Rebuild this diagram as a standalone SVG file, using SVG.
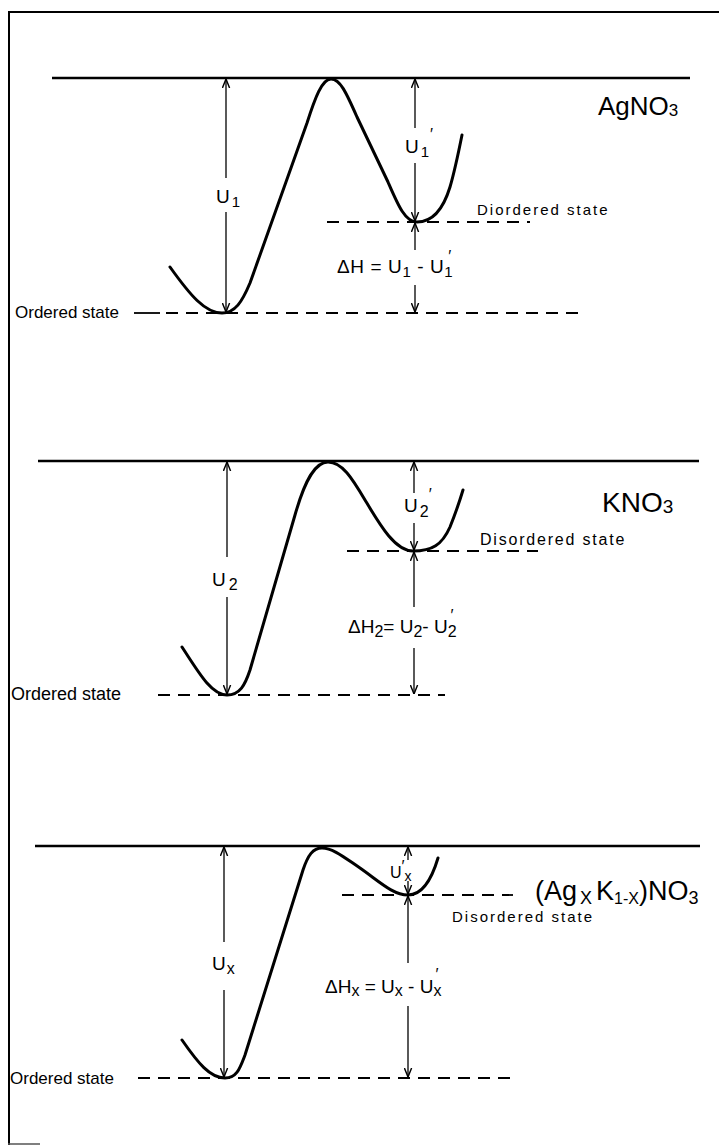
<svg xmlns="http://www.w3.org/2000/svg" width="719" height="1146" viewBox="0 0 719 1146">
<defs>
<style>
.lvl{stroke:#000;stroke-width:2.6;fill:none}
.curve{stroke:#000;stroke-width:3;fill:none;stroke-linecap:round;stroke-linejoin:round}
.dash{stroke:#000;stroke-width:1.8;fill:none;stroke-dasharray:12 8}
.arr{stroke:#000;stroke-width:1.3;fill:none}
.up{marker-start:url(#ah)}
.dn{marker-end:url(#ah)}
text{font-family:"Liberation Sans",Arial,sans-serif;fill:#000}
.lab{font-size:19px}
.st{font-size:15px;letter-spacing:2px}
.ord{font-size:17px}
.big{font-size:26px}
</style>
<marker id="ah" viewBox="0 0 10 10" refX="10" refY="5" markerWidth="9" markerHeight="9" markerUnits="userSpaceOnUse" orient="auto-start-reverse">
<path d="M0,1 L10,5 L0,9" fill="none" stroke="#000" stroke-width="1.6"/>
</marker>
</defs>
<rect width="719" height="1146" fill="#fff"/>
<g id="frame">
<line x1="8" y1="12" x2="719" y2="12" stroke="#000" stroke-width="2.2"/>
<line x1="9" y1="12" x2="9" y2="1145" stroke="#000" stroke-width="2"/>
<line x1="8" y1="1144" x2="40" y2="1144" stroke="#555" stroke-width="1.5"/>
</g>

<g id="panel-agno3">
<line class="lvl" x1="52" y1="78" x2="690" y2="78"/>
<path class="curve" d="M170,267 C190,295 205,313 222,313 C235,313 242,302 250,283 L307,123 C315,98 322,79 331,79 C340,79 346,92 357,117 L388,182 C398,205 405,222 417,222 C432,222 443,210 450,187 C455,170 459,150 462,135"/>
<text class="big" x="598" y="115">AgNO<tspan font-size="17" dy="1">3</tspan></text>
<text class="st" x="477" y="215">Diordered state</text>
<text class="lab" x="216" y="203">U<tspan font-size="15" dx="2" dy="4">1</tspan></text>
<text class="lab" x="405" y="153">U<tspan font-size="15" dx="2" dy="4">1</tspan><tspan font-size="16" dx="1" dy="-17">′</tspan></text>
<text class="lab" x="337" y="273" letter-spacing="0.6">ΔH = U<tspan font-size="15" dy="4">1</tspan><tspan dy="-4"> - U</tspan><tspan font-size="15" dy="4">1</tspan><tspan font-size="16" dx="-5" dy="-15">′</tspan></text>
<text class="ord" x="15" y="318">Ordered state</text>
<line x1="134" y1="313" x2="160" y2="313" stroke="#000" stroke-width="1.8"/>
<line class="dash" x1="166" y1="313" x2="578" y2="313"/>
<line class="dash" x1="327" y1="222" x2="530" y2="222"/>
</g>

<g id="panel-kno3">
<line class="lvl" x1="38" y1="461" x2="699" y2="461"/>
<path class="curve" d="M182,647 C200,675 212,695 227,695 C240,695 245,685 250,670 L295,515 C305,480 315,462 328,462 C342,462 352,478 365,500 C380,525 395,551 413,551 C432,551 442,545 450,527 C456,512 460,500 463,490"/>
<text x="602" y="512" font-size="28">KNO<tspan font-size="19" dy="1">3</tspan></text>
<text x="480" y="545" style="font-size:16px;letter-spacing:1.8px">Disordered state</text>
<text class="lab" x="212" y="586">U<tspan font-size="16" dx="3" dy="4">2</tspan></text>
<text class="lab" x="404" y="512">U<tspan font-size="16" dx="2" dy="5">2</tspan><tspan font-size="16" dx="0" dy="-17">′</tspan></text>
<text class="lab" x="348" y="633">ΔH<tspan font-size="16" dy="4">2</tspan><tspan dy="-4">= U</tspan><tspan font-size="16" dy="4">2</tspan><tspan dy="-4">- U</tspan><tspan font-size="16" dy="4">2</tspan><tspan font-size="16" dx="-6" dy="-16">′</tspan></text>
<text x="11" y="700" style="font-size:18px">Ordered state</text>
<line class="dash" x1="158" y1="695" x2="445" y2="695"/>
<line class="dash" x1="347" y1="551" x2="538" y2="551"/>
</g>

<g id="panel-agkno3">
<line class="lvl" x1="35" y1="846" x2="700" y2="846"/>
<path class="curve" d="M182,1040 C198,1063 210,1078 225,1078 C237,1078 240,1068 245,1055 L303,870 C308,855 313,848 322,848 C333,848 345,858 360,868 C380,882 393,895 408,895 C420,895 430,885 438,858"/>
<text x="535" y="900" font-size="27">(Ag<tspan font-size="18" dx="3" dy="4">X</tspan><tspan dx="4" dy="-4">K</tspan><tspan font-size="16" dy="4">1-X</tspan><tspan dy="-4">)NO</tspan><tspan font-size="18" dy="4">3</tspan></text>
<text class="st" x="452" y="922">Disordered state</text>
<text class="lab" x="212" y="970">U<tspan font-size="16" dx="1" dy="4">x</tspan></text>
<text font-size="16" x="390" y="878">U<tspan dy="-6">′</tspan><tspan font-size="14" dy="9">x</tspan></text>
<text class="lab" x="325" y="993">ΔH<tspan font-size="16" dy="3">x</tspan><tspan dy="-3"> = U</tspan><tspan font-size="16" dy="3">x</tspan><tspan dy="-3">  - U</tspan><tspan font-size="16" dy="3">x</tspan><tspan font-size="16" dx="-6" dy="-16">′</tspan></text>
<text class="ord" x="10" y="1084">Ordered state</text>
<line class="dash" x1="138" y1="1078" x2="511" y2="1078"/>
<line class="dash" x1="342" y1="895" x2="513" y2="895"/>
</g>

<g id="connectors">
<line class="arr up" x1="226" y1="79" x2="226" y2="178"/>
<line class="arr dn" x1="226" y1="212" x2="226" y2="312"/>
<line class="arr up" x1="415" y1="79" x2="415" y2="128"/>
<line class="arr dn" x1="415" y1="163" x2="415" y2="221"/>
<line class="arr up" x1="415" y1="223" x2="415" y2="250"/>
<line class="arr dn" x1="415" y1="285" x2="415" y2="312"/>

<line class="arr up" x1="227" y1="462" x2="227" y2="557"/>
<line class="arr dn" x1="227" y1="597" x2="227" y2="694"/>
<line class="arr up" x1="414" y1="462" x2="414" y2="493"/>
<line class="arr dn" x1="414" y1="523" x2="414" y2="550"/>
<line class="arr up" x1="414" y1="552" x2="414" y2="607"/>
<line class="arr dn" x1="414" y1="648" x2="414" y2="694"/>

<line class="arr up" x1="224" y1="847" x2="224" y2="942"/>
<line class="arr dn" x1="224" y1="990" x2="224" y2="1077"/>
<line class="arr up" x1="408" y1="847" x2="408" y2="860"/>
<line class="arr dn" x1="408" y1="881" x2="408" y2="894"/>
<line class="arr up" x1="408" y1="896" x2="408" y2="963"/>
<line class="arr dn" x1="408" y1="1006" x2="408" y2="1077"/>
</g>
</svg>
